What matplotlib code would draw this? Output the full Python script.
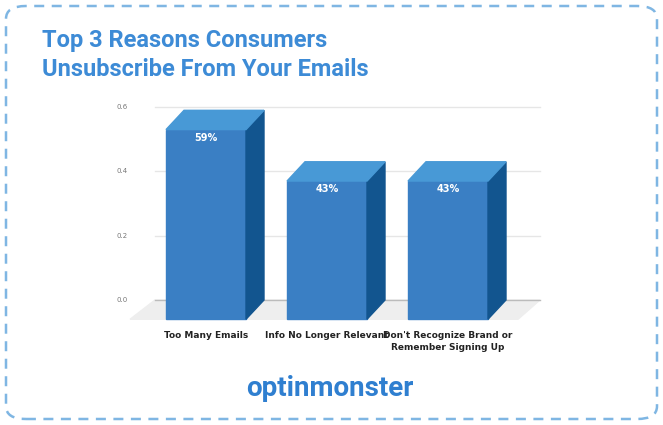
import matplotlib.pyplot as plt
from matplotlib.patches import Polygon, FancyBboxPatch

categories = ["Too Many Emails", "Info No Longer Relevant", "Don't Recognize Brand or\nRemember Signing Up"]
values = [0.59, 0.43, 0.43]
labels = ["59%", "43%", "43%"]
ticks = [0.0, 0.2, 0.4, 0.6]

W, H = 663, 425
fig = plt.figure(figsize=(W / 100, H / 100), dpi=100)
fig.patch.set_facecolor("white")

# rounded dashed frame
frame = FancyBboxPatch((6 / W, 6 / H), 651 / W, 413 / H, boxstyle="round,pad=0,rounding_size=0.03",
                       transform=fig.transFigure, fill=False, ec="#7fb6e3", lw=1.8, ls=(0, (4, 3)))
fig.patches.append(frame)

fig.text(42 / W, 1 - 40 / H, "Top 3 Reasons Consumers", color="#3d8bd6", fontsize=17, fontweight="bold",
         family="Roboto", va="center")
fig.text(42 / W, 1 - 70 / H, "Unsubscribe From Your Emails", color="#3d8bd6", fontsize=17, fontweight="bold",
         family="Roboto", va="center")

# axes in pixel x units, data y units
px0, px1, py_top, py_bot = 110, 560, 100, 330
ax = fig.add_axes([px0 / W, 1 - py_bot / H, (px1 - px0) / W, (py_bot - py_top) / H])
ax.set_xlim(px0, px1)
y_per_px = 0.2 / 64.3
ax.set_ylim(-(py_bot - 300) * y_per_px, (300 - py_top) * y_per_px)
ax.axis("off")

dx = 18
dy = 0.06
for t in ticks[1:]:
    ax.plot([155, 540], [t, t], color="#e6e6e6", lw=1, zorder=0)
    ax.text(128, t, f"{t:.1f}", fontsize=5, color="#777777", va="center", ha="right")
ax.text(128, 0, "0.0", fontsize=5, color="#777777", va="center", ha="right")
ax.add_patch(Polygon([(130, -dy), (518, -dy), (540, 0), (155, 0)], color="#eeeeee", zorder=1))
ax.plot([155, 540], [0, 0], color="#bbbbbb", lw=1, zorder=1)

x_left = [166, 287, 408]
bw = 80
for x, v, lab, cat in zip(x_left, values, labels, categories):
    top = v - dy
    ax.add_patch(Polygon([(x, -dy), (x + bw, -dy), (x + bw, top), (x, top)], color="#3a7fc4", zorder=3))
    ax.add_patch(Polygon([(x + bw, -dy), (x + bw + dx, 0), (x + bw + dx, v), (x + bw, top)],
                         color="#12558f", zorder=3))
    ax.add_patch(Polygon([(x, top), (x + dx, v), (x + bw + dx, v), (x + bw, top)], color="#4899d6", zorder=3))
    ax.text(x + bw / 2, top - 0.035, lab, color="white", fontsize=7, fontweight="bold", ha="center", zorder=4)
    ax.text(x + bw / 2, -dy - 0.035, cat, color="#222222", fontsize=6.5, fontweight="bold", ha="center",
            va="top", linespacing=1.5)

fig.text(330 / W, 1 - 388 / H, "optinmonster", color="#2f7fd0", fontsize=20, fontweight="bold",
         family="Roboto", ha="center", va="center")

fig.savefig("out.png", dpi=100)
